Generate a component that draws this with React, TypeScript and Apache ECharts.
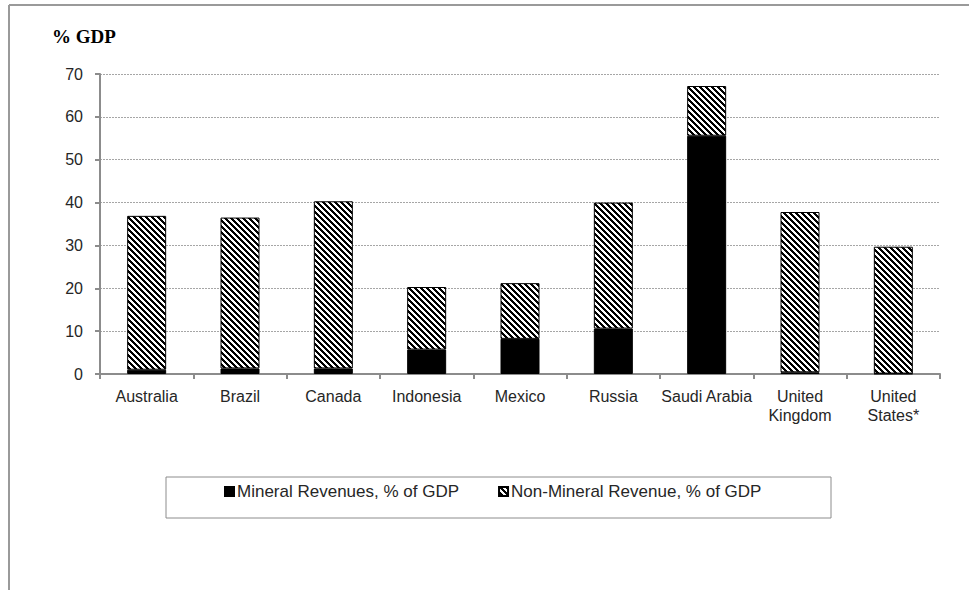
import React, { useEffect, useRef } from "react";
import * as echarts from "echarts";

const categories = [
  "Australia",
  "Brazil",
  "Canada",
  "Indonesia",
  "Mexico",
  "Russia",
  "Saudi Arabia",
  "United\nKingdom",
  "United\nStates*",
];
const mineralRevenues = [1.0, 1.3, 1.3, 5.7, 8.2, 10.6, 55.6, 0.4, 0.1];
const nonMineralRevenues = [35.9, 35.2, 39.0, 14.6, 13.0, 29.4, 11.6, 37.4, 29.6];
const seriesNames = ["Mineral Revenues, % of GDP", "Non-Mineral Revenue, % of GDP"];
const yMin = 0;
const yMax = 70;
const yInterval = 10;
const yTitle = "% GDP";

const LABEL_FONT = "'Liberation Sans', Arial, sans-serif";

function makeHatch(): HTMLCanvasElement {
  const c = document.createElement("canvas");
  const n = 6;
  c.width = n;
  c.height = n;
  const ctx = c.getContext("2d")!;
  ctx.fillStyle = "#ffffff";
  ctx.fillRect(0, 0, n, n);
  ctx.fillStyle = "#000000";
  for (let y = 0; y < n; y++) {
    for (let x = 0; x < n; x++) {
      if ((((x - y) % n) + n) % n < 3) ctx.fillRect(x, y, 1, 1);
    }
  }
  return c;
}

export default function App() {
  const ref = useRef<HTMLDivElement>(null);
  useEffect(() => {
    if (!ref.current) return;
    const chart = echarts.init(ref.current, undefined, { renderer: "svg" });
    const hatch = makeHatch();
    chart.setOption({
      animation: false,
      backgroundColor: "#ffffff",
      grid: { left: 100, right: 29, top: 74, bottom: 216, containLabel: false },
      legend: {
        left: 224,
        top: 483,
        padding: 0,
        itemWidth: 9,
        itemHeight: 9,
        itemGap: 39,
        icon: "rect",
        textStyle: { fontFamily: LABEL_FONT, fontSize: 17, color: "#262626", padding: [0, 0, 0, -2] },
        data: seriesNames,
      },
      graphic: [
        { type: "line", shape: { x1: 9, y1: 5, x2: 969, y2: 5 }, style: { stroke: "#9a9a9a", lineWidth: 2 } },
        { type: "line", shape: { x1: 9, y1: 5, x2: 9, y2: 590 }, style: { stroke: "#9a9a9a", lineWidth: 2 } },
        {
          type: "rect",
          shape: { x: 166, y: 477, width: 665, height: 41 },
          style: { fill: "none", stroke: "#8c8c8c", lineWidth: 1 },
          z: -1,
        },
        {
          type: "text",
          x: 52,
          y: 36,
          style: {
            text: yTitle,
            font: "bold 19px 'Liberation Serif', 'Times New Roman', serif",
            fill: "#000000",
            verticalAlign: "middle",
          },
        },
      ],
      xAxis: {
        type: "category",
        data: categories,
        boundaryGap: true,
        axisLine: { lineStyle: { color: "#8c8c8c", width: 2 } },
        axisTick: { show: true, length: 5, alignWithLabel: false, lineStyle: { color: "#8c8c8c", width: 2 } },
        axisLabel: {
          fontFamily: LABEL_FONT,
          fontSize: 16,
          color: "#262626",
          margin: 13,
          lineHeight: 19,
          interval: 0,
        },
      },
      yAxis: {
        type: "value",
        min: yMin,
        max: yMax,
        interval: yInterval,
        axisLine: { show: true, lineStyle: { color: "#8c8c8c", width: 2 } },
        axisTick: { show: true, length: 5, lineStyle: { color: "#8c8c8c", width: 2 } },
        axisLabel: { fontFamily: LABEL_FONT, fontSize: 16, color: "#262626", margin: 17 },
        splitLine: { show: true, lineStyle: { color: "#a6a6a6", width: 1, type: [2, 1] } },
      },
      series: [
        {
          name: seriesNames[0],
          type: "bar",
          stack: "total",
          data: mineralRevenues,
          barWidth: 39,
          itemStyle: { color: "#000000", borderColor: "#000000", borderWidth: 1 },
        },
        {
          name: seriesNames[1],
          type: "bar",
          stack: "total",
          data: nonMineralRevenues,
          barWidth: 39,
          itemStyle: {
            color: { image: hatch, repeat: "repeat" },
            borderColor: "#000000",
            borderWidth: 1,
          },
        },
      ],
    });
    return () => chart.dispose();
  }, []);
  return (
    <div
      ref={ref}
      style={{ position: "fixed", left: 0, top: 0, width: 969, height: 590 }}
    />
  );
}
